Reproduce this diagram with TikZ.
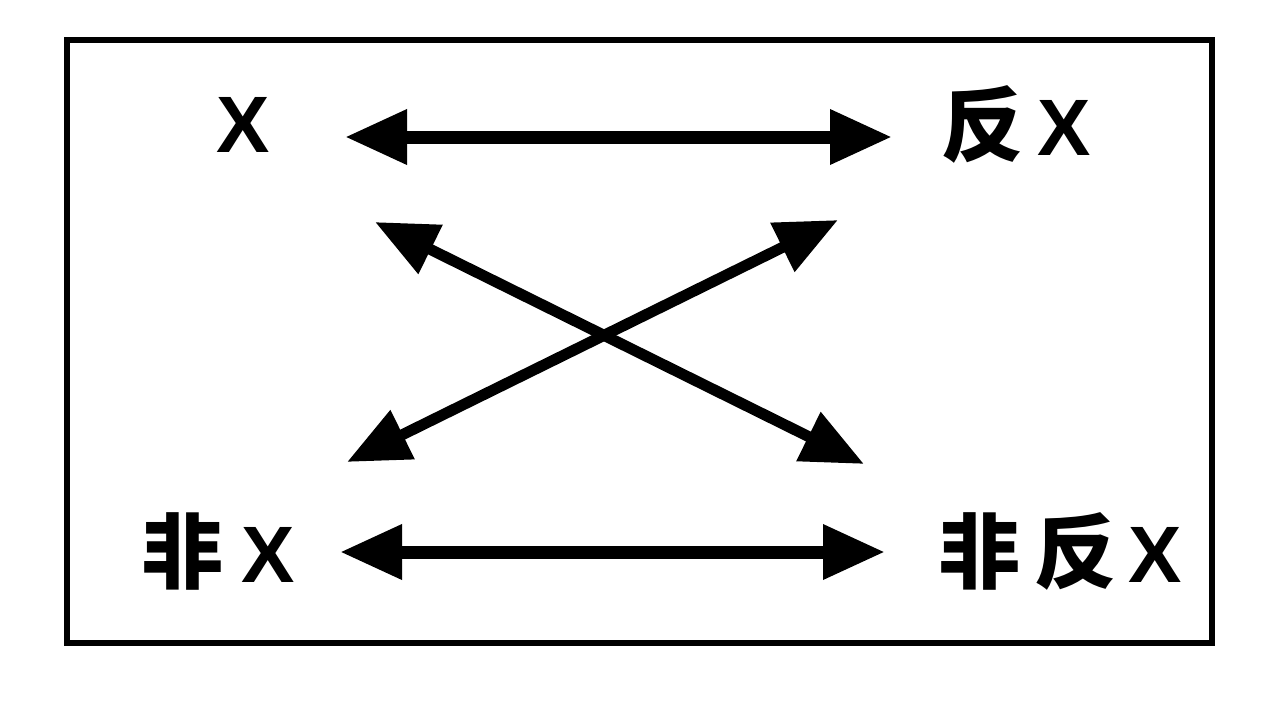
\documentclass[tikz,border=0pt]{standalone}
\usepackage{fontspec}
\newfontfamily\cjk{Noto Sans CJK SC}
\newfontfamily\lat{Liberation Sans}
\usetikzlibrary{arrows.meta}
\newcommand{\cj}[1]{{\cjk\bfseries\fontsize{82}{90}\selectfont #1}}
\newcommand{\xx}{{\lat\bfseries\fontsize{80}{90}\selectfont X}}
\tikzset{
  lbl/.style={inner sep=0pt, anchor=base},
  dbl/.style={line width=13pt, {Triangle[length=62pt,width=52pt]}-{Triangle[length=62pt,width=52pt]}},
  frame/.style={line width=6pt}
}
\begin{document}
\begin{tikzpicture}[x=1pt,y=-1pt]
\useasboundingbox (0,0) rectangle (1280,720);
\draw[frame] (67,40) rectangle (1212,643);
\node[lbl] (X) at (243,152) {\xx};
\node[lbl] (antiX) at (1016,155) {\cj{反}\hspace{14pt}\xx};
\node[lbl] (nonX) at (218,582) {\cj{非}\hspace{18pt}\xx};
\node[lbl] (nonantiX) at (1060,582) {\cj{非}\hspace{14pt}\cj{反}\hspace{12pt}\xx};
\coordinate (a1) at (345,137);
\coordinate (a2) at (892,137);
\coordinate (b1) at (340,552);
\coordinate (b2) at (885,552);
\coordinate (c1) at (375,222);
\coordinate (c2) at (864,464);
\coordinate (d1) at (347,462);
\coordinate (d2) at (838,220);
\draw[dbl] (a1) -- (a2);
\draw[dbl] (b1) -- (b2);
\draw[dbl, line width=11pt] (c1) -- (c2);
\draw[dbl, line width=11pt] (d1) -- (d2);
\end{tikzpicture}
\end{document}
